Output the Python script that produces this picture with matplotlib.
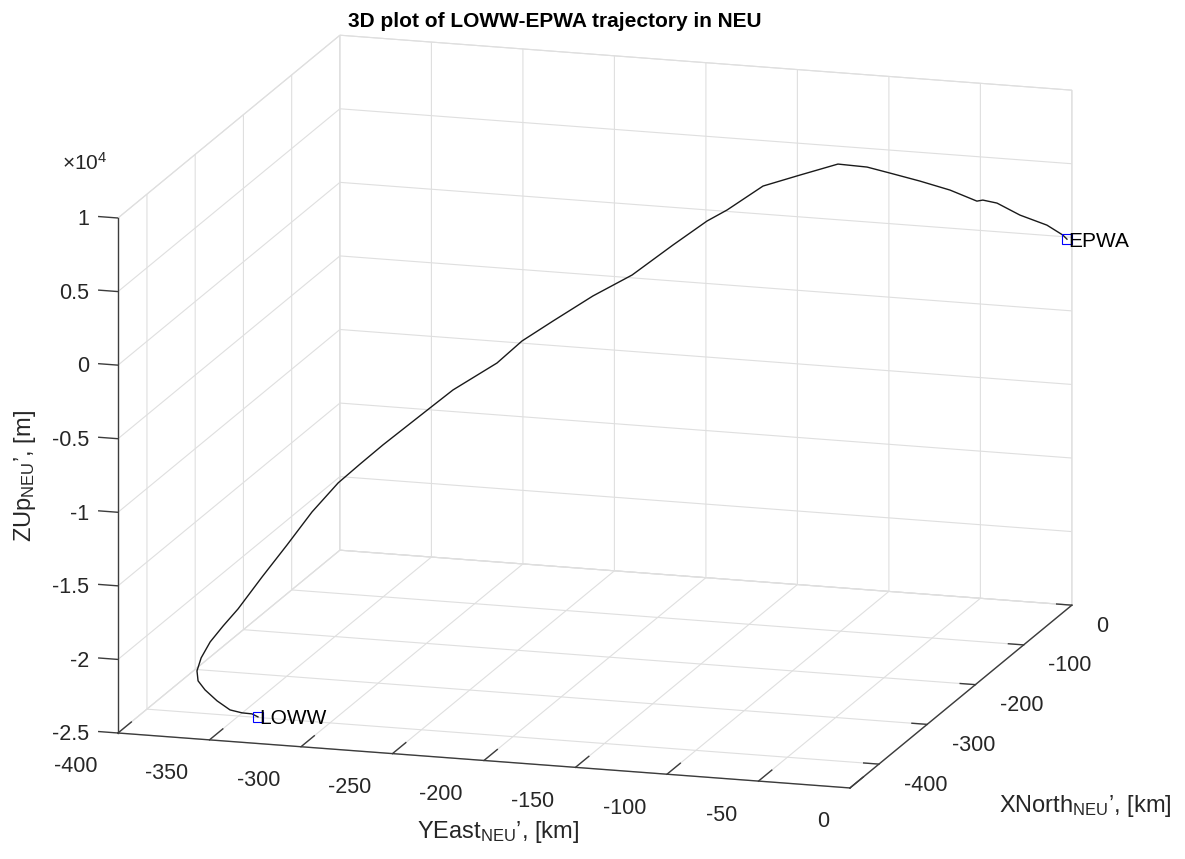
import numpy as np
import matplotlib
matplotlib.use("Agg")
import matplotlib.pyplot as plt
import matplotlib.transforms as mtransforms
from matplotlib.ticker import FixedLocator, NullFormatter
from mpl_toolkits.mplot3d import proj3d

# ---------------------------------------------------------------------------
# Flight LOWW -> EPWA in a local North-East-Up frame centred on EPWA.
# East / North in km, Up in m (Up includes the drop of the earth's curvature).
# ---------------------------------------------------------------------------
east_km = [-328.0, -331.0, -336.2, -342.2, -348.5, -354.3, -357.3, -357.5,
           -355.8, -352.1, -346.8, -340.7, -330.9, -320.7, -310.5, -299.8,
           -290.8, -281.5, -262.3, -252.9, -234.9, -224.7, -212.0, -195.7,
           -179.7, -163.0, -149.1, -140.9, -126.2, -111.1, -95.6, -83.7,
           -74.3, -62.1, -49.8, -38.8, -36.4, -30.6, -21.2, -10.2, -3.7, -2.0]
north_km = [-443.0, -444.0, -445.0, -447.0, -450.0, -453.0, -456.0, -457.5,
            -455.3, -450.6, -443.8, -436.0, -423.4, -410.4, -397.3, -383.7,
            -372.2, -360.2, -335.6, -323.6, -300.6, -287.5, -271.3, -250.4,
            -230.0, -208.6, -190.8, -180.3, -161.5, -142.2, -122.3, -107.1,
            -95.1, -79.5, -63.7, -49.7, -46.5, -39.2, -27.2, -13.1, -4.7, -2.6]
up_m = [-23692, -23488, -23440, -23243, -22605, -21830, -21164, -20450,
        -19607, -18615, -17663, -16658, -14734, -12818, -10833, -9127,
        -8067, -7007, -4982, -3996, -2617, -1380, -340, 951,
        1971, 3588, 4866, 5410, 6667, 7034, 7388, 6885,
        6239, 5389, 4465, 3439, 3446, 3099, 2046, 1087, 245, -75]

airport_names = ["LOWW", "EPWA"]
airport_east_km = [-328.0, -2.0]
airport_north_km = [-443.0, -2.6]
airport_up_m = [-23692.0, -75.0]

east_ticks = [-400, -350, -300, -250, -200, -150, -100, -50, 0]
north_ticks = [-400, -300, -200, -100, 0]
up_ticks = [-25000, -20000, -15000, -10000, -5000, 0, 5000, 10000]
up_tick_labels = ["-2.5", "-2", "-1.5", "-1", "-0.5", "0", "0.5", "1"]

E_LIM = (-400, 0)
N_LIM = (-460, 0)
U_LIM = (-25000, 10000)

plt.rcParams.update({
    "font.family": ["Liberation Sans", "DejaVu Sans"],
    "mathtext.fontset": "custom",
    "mathtext.rm": "Liberation Sans",
    "mathtext.it": "Liberation Sans:italic",
    "mathtext.bf": "Liberation Sans:bold",
    "axes.unicode_minus": False,
})

W, H = 1185, 859
fig = plt.figure(figsize=(W / 100, H / 100), dpi=100)
side = W / H
base_pos = [0.0, (1 - side) / 2, 1.0, side]
ax = fig.add_axes(base_pos, projection="3d", proj_type="ortho")

ax.set_xlim(*E_LIM)
ax.set_ylim(*N_LIM)
ax.set_zlim(*U_LIM)
ax.view_init(elev=14.4, azim=-73.2)
box = (764.6, 767.8, 531.7)
ax.set_box_aspect(box)

ax.xaxis.set_major_locator(FixedLocator(east_ticks))
ax.yaxis.set_major_locator(FixedLocator(north_ticks))
ax.zaxis.set_major_locator(FixedLocator(up_ticks))
ax.zaxis.set_ticks_position("lower")

grid_col = "#dfdfdf"
axis_col = "#3c3c3c"
text_col = "#262626"
for axis, out in ((ax.xaxis, 0.75), (ax.yaxis, 0.26), (ax.zaxis, 0.0)):
    axis.set_major_formatter(NullFormatter())
    axis.set_tick_params(labelbottom=False, color=axis_col)
    axis.label.set_visible(False)
    axis.offsetText.set_visible(False)
    axis.set_pane_color((1, 1, 1, 1))
    axis.pane.set_edgecolor(grid_col)
    axis.pane.set_linewidth(0.8)
    axis._axinfo["grid"].update(color=grid_col, linewidth=0.8, linestyle="-")
    axis._axinfo["tick"].update(inward_factor=0.0, outward_factor=out,
                                linewidth={True: 1.0, False: 0.5})
    axis.line.set_color(axis_col)
    axis.line.set_linewidth(1.0)


def to_px(x, y, z):
    X, Y, _ = proj3d.proj_transform(x, y, z, ax.get_proj())
    dx, dy = ax.transData.transform((X, Y))
    return np.array([dx, H - dy])


# place the box: lower front-left and lower back-right corners (pixels from top-left)
corner_lo = np.array([118.0, 733.0])
corner_hi = np.array([1072.0, 606.0])
fig.canvas.draw()
p0 = to_px(E_LIM[0], N_LIM[0], U_LIM[0])
p1 = to_px(E_LIM[1], N_LIM[1], U_LIM[0])
zoom = np.linalg.norm(corner_hi - corner_lo) / np.linalg.norm(p1 - p0)
ax.set_box_aspect(box, zoom=zoom)
fig.canvas.draw()
p0 = to_px(E_LIM[0], N_LIM[0], U_LIM[0])
shift = corner_lo - p0
ax.set_position([base_pos[0] + shift[0] / W, base_pos[1] - shift[1] / H,
                 base_pos[2], base_pos[3]])
fig.canvas.draw()
for axis in (ax.xaxis, ax.yaxis, ax.zaxis):
    for tick in axis.get_major_ticks() + axis.get_minor_ticks():
        tick.label1.set_visible(False)
        tick.label2.set_visible(False)

proj_M = ax.get_proj()


def text3d(x, y, z, s, dx, dy, **kw):
    """Text anchored at a 3D data point, shifted by (dx, dy) pixels (dy downwards)."""
    X, Y, _ = proj3d.proj_transform(x, y, z, proj_M)
    tr = mtransforms.offset_copy(ax.transData, fig=fig, x=dx, y=-dy, units="dots")
    return ax.text2D(X, Y, s, transform=tr, **kw)


# vertical-axis tick marks point straight out to the west
z_tick_len_km = 10.9
for u in up_ticks:
    tk, = ax.plot([E_LIM[0], E_LIM[0] - z_tick_len_km], [N_LIM[0], N_LIM[0]], [u, u],
                  color=axis_col, lw=1.0, solid_capstyle="butt")
    tk.set_clip_on(False)

tick_fs = 15.5
for e in east_ticks:
    text3d(e, N_LIM[0], U_LIM[0], f"{e:g}", -21, 39.5, ha="right",
           va="baseline", fontsize=tick_fs, color=text_col)
for n in north_ticks:
    text3d(E_LIM[1], n, U_LIM[0], f"{n:g}", 24.6, 26.5, ha="left",
           va="baseline", fontsize=tick_fs, color=text_col)
for u, lab in zip(up_ticks, up_tick_labels):
    text3d(E_LIM[0], N_LIM[0], u, lab, -29, 7.3, ha="right",
           va="baseline", fontsize=tick_fs, color=text_col)

# trajectory and airports
line, = ax.plot(east_km, north_km, up_m, color="#1a1a1a", lw=1.0)
line.set_clip_on(False)
pts, = ax.plot(airport_east_km, airport_north_km, airport_up_m, linestyle="none",
               marker="s", ms=6.5, mfc="none", mec="#0000ff", mew=0.8)
pts.set_clip_on(False)
for name, e, n, u in zip(airport_names, airport_east_km, airport_north_km, airport_up_m):
    text3d(e, n, u, name, 1, 7.5, ha="left", va="baseline", fontsize=15, color="k")

# titles and axis labels
fig.text(555 / W, 1 - 27 / H, "3D plot of LOWW-EPWA trajectory in NEU",
         ha="center", va="baseline", fontsize=15, fontweight="bold", color="k")
fig.text(498 / W, 1 - 838 / H, "YEast$_{\\mathrm{NEU}}$\u2019, [km]",
         ha="center", va="baseline", fontsize=17, color=text_col)
fig.text(1085 / W, 1 - 812 / H, "XNorth$_{\\mathrm{NEU}}$\u2019, [km]",
         ha="center", va="baseline", fontsize=17, color=text_col)
fig.text(30.7 / W, 1 - 476.5 / H, "ZUp$_{\\mathrm{NEU}}$\u2019, [m]",
         ha="center", va="baseline", rotation=90, rotation_mode="anchor",
         fontsize=17, color=text_col)
fig.text(62 / W, 1 - 169.5 / H, r"$\times10^{4}$", ha="left", va="baseline",
         fontsize=15, color=text_col)

fig.savefig("out.png", dpi=100)
